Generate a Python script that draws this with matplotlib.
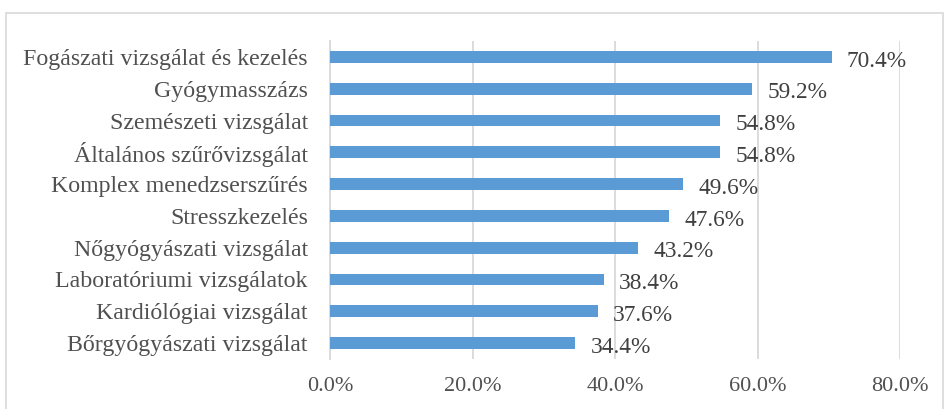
import matplotlib.pyplot as plt
from matplotlib.patches import Rectangle
from matplotlib.ticker import FuncFormatter

categories = [
    "Fogászati vizsgálat és kezelés",
    "Gyógymasszázs",
    "Szemészeti vizsgálat",
    "Általános szűrővizsgálat",
    "Komplex menedzserszűrés",
    "Stresszkezelés",
    "Nőgyógyászati vizsgálat",
    "Laboratóriumi vizsgálatok",
    "Kardiólógiai vizsgálat",
    "Bőrgyógyászati vizsgálat",
]
values = [70.4, 59.2, 54.8, 54.8, 49.6, 47.6, 43.2, 38.4, 37.6, 34.4]
ticks = [0, 20, 40, 60, 80]

plt.rcParams['font.family'] = ['Liberation Serif', 'DejaVu Serif']

fig = plt.figure(figsize=(9.48, 4.09), dpi=100)
ax = fig.add_axes([330 / 948, 50 / 409, 570 / 948, 318 / 409])

# outer frame around the chart area
fig.patches.append(Rectangle((6 / 948, -0.01), 937 / 948, (409 - 13) / 409 + 0.01,
                             transform=fig.transFigure, fill=False,
                             edgecolor='#D9D9D9', lw=1.2))

y = list(range(len(categories)))[::-1]
ax.barh(y, values, height=0.37, color='#5B9BD5', zorder=3)

for yi, v in zip(y, values):
    ax.annotate(f"{v:.1f}%", (v, yi), xytext=(11, -3), textcoords='offset points',
                ha='left', va='center', fontsize=16.8, color='#404040', clip_on=False)

ax.set_xlim(0, 80)
ax.set_ylim(-0.5, len(categories) - 0.5)
ax.set_xticks(ticks)
ax.xaxis.set_major_formatter(FuncFormatter(lambda x, _: f"{x:.1f}%"))
ax.set_yticks(y)
ax.set_yticklabels(categories)
ax.tick_params(axis='y', length=0, pad=16, labelsize=17.2, labelcolor='#505050')
ax.tick_params(axis='x', length=0, pad=13, labelsize=16, labelcolor='#505050')
ax.grid(axis='x', color='#D9D9D9', lw=1.3, zorder=0)
for s in ['top', 'right', 'bottom']:
    ax.spines[s].set_visible(False)
ax.spines['left'].set_color('#D9D9D9')
ax.spines['left'].set_linewidth(1.3)

fig.savefig('out.png', dpi=100)
